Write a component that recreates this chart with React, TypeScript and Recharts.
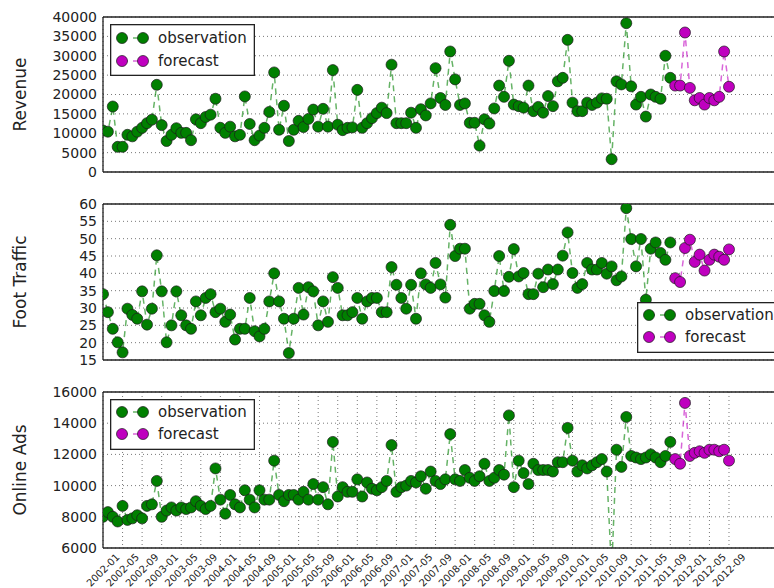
import { CartesianGrid, Line, LineChart, XAxis, YAxis } from "recharts";

const tickLabels = [
  "2002-01", "2002-05", "2002-09", "2003-01", "2003-05", "2003-09",
  "2004-01", "2004-05", "2004-09", "2005-01", "2005-05", "2005-09",
  "2006-01", "2006-05", "2006-09", "2007-01", "2007-05", "2007-09",
  "2008-01", "2008-05", "2008-09", "2009-01", "2009-05", "2009-09",
  "2010-01", "2010-05", "2010-09", "2011-01", "2011-05", "2011-09",
  "2012-01", "2012-05", "2012-09",
];

// monthly observations 2002-01 .. 2011-09, forecast 2011-10 .. 2012-09
const revenueObserved = [
  10700, 10400, 16900, 6500, 6500, 9600, 9200, 10400, 11400, 12600,
  13500, 22500, 12100, 8000, 9600, 11300, 10100, 10100, 8200, 13600,
  12600, 14200, 14800, 18900, 11400, 10100, 11700, 9200, 9600, 19500,
  12400, 8200, 9400, 11400, 15500, 25700, 10900, 17100, 8000, 10900,
  13200, 11600, 13700, 16100, 11700, 16300, 11700, 26300, 12200, 10800,
  11400, 11500, 21200, 11400, 12600, 13900, 15200, 16600, 15200, 27700,
  12600, 12600, 12600, 15300, 11400, 16200, 14600, 17700, 26800, 19100,
  17300, 31100, 23900, 17300, 17700, 12700, 12700, 6800, 13600, 12500,
  16400, 22300, 19400, 28700, 17400, 17000, 16600, 22300, 15700, 16800,
  15300, 19600, 17000, 23400, 24300, 34100, 17900, 15700, 15700, 17900,
  17300, 17900, 19000, 18900, 3300, 23400, 22600, 38400, 22100, 17400,
  19400, 14300, 20000, 19400, 18900, 30000, 24300,
];
const revenueForecast = [
  22300, 22300, 36000, 21700, 18500, 19100, 17400, 19100, 18500, 19400, 31100, 22000,
];

const trafficObserved = [
  34.0, 28.8, 24.0, 20.1, 17.2, 29.8, 28.0, 26.9, 34.8, 25.2,
  29.8, 45.2, 34.8, 20.1, 25.0, 34.8, 27.9, 25.0, 24.0, 31.9,
  27.9, 32.9, 34.0, 28.8, 29.8, 26.0, 28.1, 20.9, 24.0, 24.0,
  32.9, 23.3, 21.8, 24.0, 31.9, 40.0, 31.9, 26.9, 17.0, 26.9,
  35.8, 28.1, 36.0, 34.8, 25.0, 31.9, 26.0, 38.9, 35.8, 27.9,
  27.9, 28.8, 32.9, 26.9, 31.9, 32.9, 32.9, 28.8, 28.8, 41.8,
  36.7, 32.9, 29.8, 36.7, 26.9, 40.0, 36.8, 35.8, 43.0, 36.8,
  33.0, 54.0, 45.0, 47.1, 47.1, 29.8, 31.2, 31.2, 27.9, 26.0,
  34.9, 45.0, 34.9, 39.0, 47.0, 39.1, 40.1, 34.0, 34.0, 39.9,
  36.0, 41.1, 36.9, 41.1, 45.1, 51.8, 40.1, 35.8, 36.9, 43.0,
  41.1, 41.1, 43.0, 39.9, 42.0, 38.0, 39.1, 58.8, 49.9, 42.0,
  49.9, 32.4, 47.1, 48.9, 45.9, 43.9, 48.9,
];
const trafficForecast = [
  38.6, 37.5, 47.3, 49.7, 43.3, 45.4, 40.8, 43.9, 45.4, 44.8, 43.9, 46.9,
];

const adsObserved = [
  8000, 8300, 8000, 7700, 8700, 7800, 7900, 8100, 7900, 8700,
  8800, 10300, 8000, 8400, 8600, 8400, 8600, 8500, 8600, 9000,
  8700, 8500, 8700, 11100, 9100, 8200, 9400, 8800, 8600, 9700,
  9100, 8600, 9700, 9100, 9100, 11600, 9400, 9000, 9400, 9400,
  9100, 9600, 9100, 10100, 9100, 9900, 8800, 12800, 9300, 9900,
  9600, 9600, 10400, 9300, 10200, 9800, 9700, 9900, 10300, 12600,
  9600, 9900, 10000, 10300, 10200, 10600, 9800, 10900, 10300, 10100,
  10400, 13300, 10400, 10300, 11000, 10500, 10300, 10600, 11400, 10300,
  10500, 11000, 10700, 14500, 9900, 11600, 10800, 10100, 11400, 11000,
  11000, 11000, 10900, 11500, 11500, 13700, 11600, 10900, 11300, 11100,
  11300, 11500, 11700, 10900, 4500, 12300, 11200, 14400, 11900, 11800,
  11700, 11800, 12000, 11800, 11500, 11900, 12800,
];
const adsForecast = [
  11700, 11400, 15300, 11900, 12100, 12200, 12100, 12300, 12300, 12200, 12300, 11600,
];

const revenueTicks = [0, 5000, 10000, 15000, 20000, 25000, 30000, 35000, 40000];
const trafficTicks = [15, 20, 25, 30, 35, 40, 45, 50, 55, 60];
const adsTicks = [6000, 8000, 10000, 12000, 14000, 16000];

const FONT = "DejaVu Sans, sans-serif";
const INK = "#222";
const OBS = "#008000";
const FCST = "#bf00bf";
const X_MAX = 138.43;
const xTicks = tickLabels.map((_, i) => i * 4);

type Row = { m: number; v: number };
const toRows = (values: number[], start: number): Row[] =>
  values.map((v, i) => ({ m: start + i, v }));

function DateTick(props: any) {
  const { x, y, payload } = props;
  const label = tickLabels[Math.round(payload.value / 4)];
  const cy = y + 22;
  return (
    <text
      x={x}
      y={cy}
      transform={`rotate(-45, ${x}, ${cy})`}
      textAnchor="middle"
      dominantBaseline="central"
      fontSize={10}
      fontFamily={FONT}
      fill={INK}
    >
      {label}
    </text>
  );
}

function AxisTitle(props: any) {
  const { viewBox, text } = props;
  const cy = viewBox ? viewBox.y + viewBox.height / 2 : 0;
  return (
    <text
      x={20}
      y={cy}
      transform={`rotate(-90, 20, ${cy})`}
      textAnchor="middle"
      dominantBaseline="central"
      fontSize={17}
      fontFamily={FONT}
      fill={INK}
    >
      {text}
    </text>
  );
}

function LegendBox({ left, top, width, height, rows }: {
  left: number; top: number; width: number; height: number; rows: number[];
}) {
  const items = [
    { label: "observation", color: OBS },
    { label: "forecast", color: FCST },
  ];
  return (
    <svg
      width={width}
      height={height}
      style={{ position: "absolute", left, top, overflow: "visible" }}
    >
      <rect x={0.65} y={0.65} width={width - 1.3} height={height - 1.3} fill="#fff" stroke={INK} strokeWidth={1.3} />
      {items.map((item, i) => (
        <g key={item.label}>
          <line x1={12} x2={33} y1={rows[i]} y2={rows[i]} stroke={item.color} strokeOpacity={0.6} strokeWidth={1.5} strokeDasharray="6 5" />
          <circle cx={12} cy={rows[i]} r={5.5} fill={item.color} stroke="#1b1b1b" strokeWidth={0.7} />
          <circle cx={33} cy={rows[i]} r={5.5} fill={item.color} stroke="#1b1b1b" strokeWidth={0.7} />
          <text x={48} y={rows[i]} dominantBaseline="central" fontSize={15} fontFamily={FONT} fill={INK}>
            {item.label}
          </text>
        </g>
      ))}
    </svg>
  );
}

function Panel(props: {
  top: number; height: number; marginTop: number; marginBottom: number;
  domain: [number, number]; ticks: number[]; title: string;
  observed: number[]; forecast: number[]; showDates?: boolean;
}) {
  const { top, height, marginTop, marginBottom, domain, ticks, title, observed, forecast, showDates } = props;
  const obsRows = toRows(observed, 0);
  const fcstRows = toRows(forecast, observed.length);
  const dot = (color: string) => ({
    r: 5.5, fill: color, stroke: "#1b1b1b", strokeWidth: 0.7, strokeDasharray: "none", strokeOpacity: 1,
  });

  return (
    <div style={{ position: "absolute", left: 0, top }}>
      <LineChart width={780} height={height} margin={{ top: marginTop, right: 0, bottom: marginBottom, left: 0 }}>
        <CartesianGrid stroke="#555" strokeDasharray="1 3" strokeWidth={0.8} />
        {showDates ? (
          <XAxis
            dataKey="m" type="number" domain={[0, X_MAX]} ticks={xTicks} allowDataOverflow interval={0}
            height={40} tickLine={false} tickSize={0} tickMargin={0} tick={<DateTick />}
            axisLine={{ stroke: INK, strokeWidth: 1.3 }}
          />
        ) : (
          <XAxis
            dataKey="m" type="number" domain={[0, X_MAX]} ticks={xTicks} allowDataOverflow interval={0}
            mirror tick={false} tickSize={4} tickLine={{ stroke: INK }}
            axisLine={{ stroke: INK, strokeWidth: 1.3 }}
          />
        )}
        {showDates && (
          <XAxis
            xAxisId="inner" dataKey="m" type="number" domain={[0, X_MAX]} ticks={xTicks} allowDataOverflow interval={0}
            mirror tick={false} tickSize={4} tickLine={{ stroke: INK }} axisLine={false}
          />
        )}
        <XAxis
          xAxisId="top" orientation="top" dataKey="m" type="number" domain={[0, X_MAX]} ticks={xTicks}
          allowDataOverflow interval={0} mirror tick={false} tickSize={4} tickLine={{ stroke: INK }}
          axisLine={{ stroke: INK, strokeWidth: 1.3 }}
        />
        <YAxis
          type="number" domain={domain} ticks={ticks} allowDataOverflow interval={0} width={103}
          tickLine={false} tickSize={4} tickMargin={2}
          tick={{ fontSize: 14, fontFamily: FONT, fill: INK }}
          axisLine={{ stroke: INK, strokeWidth: 1.3 }}
          label={<AxisTitle text={title} />}
        />
        <YAxis
          yAxisId="inner" type="number" domain={domain} ticks={ticks} allowDataOverflow interval={0}
          mirror tick={false} tickSize={4} tickLine={{ stroke: INK }} axisLine={false}
        />
        <Line
          data={obsRows} dataKey="v" stroke={OBS} strokeOpacity={0.6} strokeWidth={1.5}
          strokeDasharray="6 5" dot={dot(OBS)} activeDot={false} isAnimationActive={false}
        />
        <Line
          data={fcstRows} dataKey="v" stroke={FCST} strokeOpacity={0.6} strokeWidth={1.5}
          strokeDasharray="6 5" dot={dot(FCST)} activeDot={false} isAnimationActive={false}
        />
      </LineChart>
    </div>
  );
}

export default function App() {
  return (
    <div
      style={{
        position: "absolute", left: 0, top: 0, width: 774, height: 588,
        overflow: "hidden", background: "#fff", fontFamily: FONT,
      }}
    >
      <Panel
        top={0} height={182} marginTop={17} marginBottom={10}
        domain={[0, 40000]} ticks={revenueTicks} title="Revenue"
        observed={revenueObserved} forecast={revenueForecast}
      />
      <Panel
        top={190} height={180} marginTop={14} marginBottom={10}
        domain={[15, 60]} ticks={trafficTicks} title="Foot Traffic"
        observed={trafficObserved} forecast={trafficForecast}
      />
      <Panel
        top={376} height={212} marginTop={16} marginBottom={0}
        domain={[6000, 16000]} ticks={adsTicks} title="Online Ads"
        observed={adsObserved} forecast={adsForecast} showDates
      />
      <LegendBox left={110} top={24} width={145} height={52} rows={[14, 37]} />
      <LegendBox left={637} top={302} width={150} height={51} rows={[13, 35]} />
      <LegendBox left={110} top={399} width={145} height={51} rows={[13, 35]} />
    </div>
  );
}
